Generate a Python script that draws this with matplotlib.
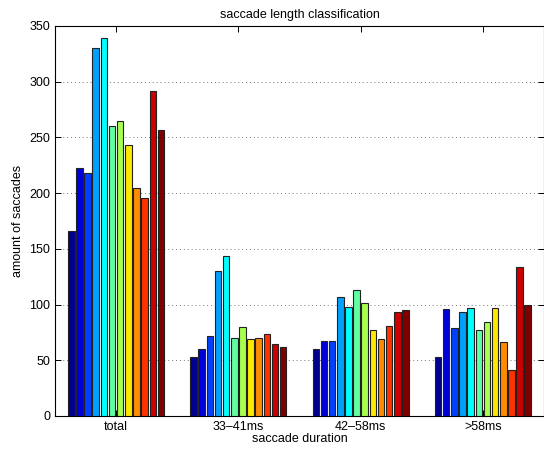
import matplotlib
matplotlib.use("Agg")
import matplotlib.pyplot as plt
import numpy as np

categories = ["total", "33\u201341ms", "42\u201358ms", ">58ms"]
total = [166, 223, 218, 330, 339, 260, 265, 243, 205, 196, 292, 257]
g33_41 = [53, 60, 72, 130, 144, 70, 80, 69, 70, 74, 65, 62]
g42_58 = [60, 67, 67, 107, 98, 113, 101, 77, 69, 81, 93, 95]
g58 = [53, 96, 79, 93, 97, 77, 84, 97, 66, 41, 134, 100]
yticks = [0, 50, 100, 150, 200, 250, 300, 350]

colors = ["#000090", "#0000DD", "#0040FF", "#00A0FF", "#00FFFF", "#60FFA0",
          "#A8FF50", "#FFE800", "#FF8C00", "#FF3200", "#CC0000", "#800000"]

plt.rcParams['font.family'] = ['Liberation Sans', 'DejaVu Sans']

data = np.array([total, g33_41, g42_58, g58])  # groups x series
ngroups, nseries = data.shape

fig = plt.figure(figsize=(5.44, 4.50), dpi=100)
ax = fig.add_axes([55/544, 34/450, 489/544, 390/450])

groupwidth = 0.8
slot = groupwidth / nseries
x = np.arange(1, ngroups + 1)
for i in range(nseries):
    off = -groupwidth / 2 + slot * (i + 0.5)
    ax.bar(x + off, data[:, i], width=slot * 0.8, color=colors[i],
           edgecolor='#222222', linewidth=0.8, zorder=3)

ax.set_xlim(0.5, 4.5)
ax.set_ylim(0, 350)
ax.set_xticks(x)
ax.set_xticklabels(categories)
ax.set_yticks(yticks)
ax.yaxis.grid(True, linestyle=(0, (1, 3)), color='#777777', linewidth=0.7, zorder=0)
ax.tick_params(direction='in', top=True, right=True, labelsize=9, length=4, width=0.7)
for s in ax.spines.values():
    s.set_linewidth(0.8)
ax.set_xlabel("saccade duration", fontsize=9, labelpad=0)
ax.set_ylabel("amount of saccades", fontsize=9, labelpad=4)
ax.set_title("saccade length classification", fontsize=9, pad=6)

fig.savefig("out.png", dpi=100)
